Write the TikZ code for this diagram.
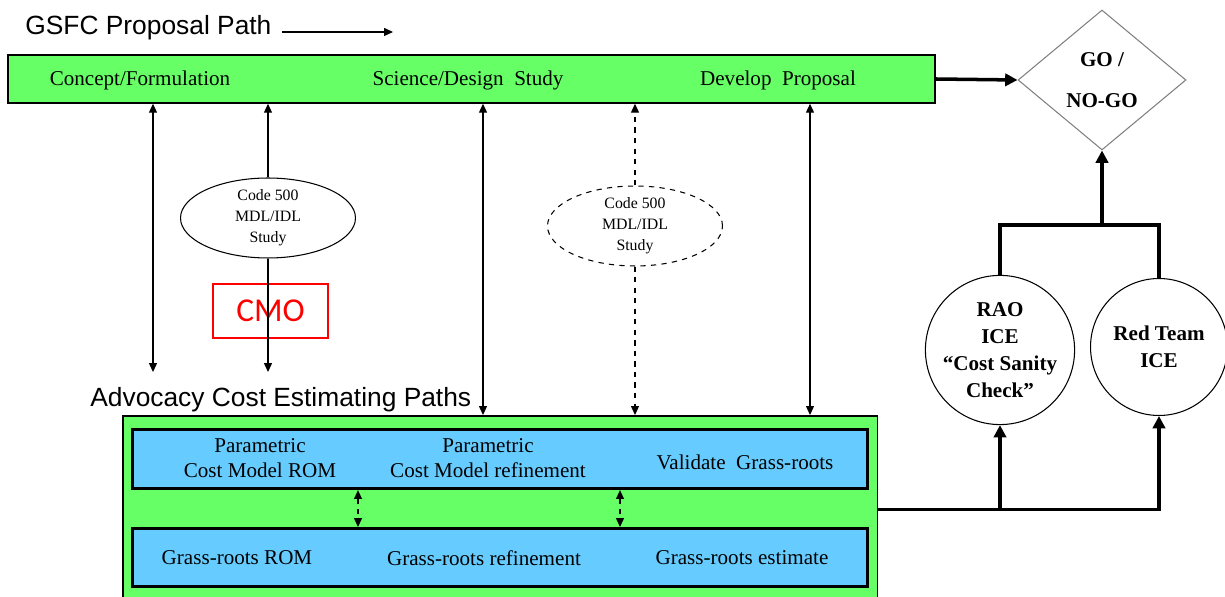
\documentclass[tikz,border=0pt]{standalone}
\usepackage{fontspec}
\setmainfont{Liberation Serif}
\setsansfont{Liberation Sans}
\newfontfamily\cmofont{Carlito}
\usetikzlibrary{arrows.meta,shapes.geometric}
\definecolor{barGreen}{RGB}{102,255,102}
\definecolor{barBlue}{RGB}{102,204,255}

\begin{document}
\begin{tikzpicture}[x=0.02cm, y=-0.02cm,
    tip/.style={line width=0.6pt, -{Triangle[length=5pt,width=4.5pt]}},
    both/.style={line width=0.6pt, {Triangle[length=5pt,width=4.5pt]}-{Triangle[length=5pt,width=4.5pt]}},
    fat/.style={line width=2pt},
    bigtip/.style={-{Triangle[length=7pt,width=7pt]}},
    greenbar/.style={draw, line width=0.9pt, fill=barGreen, inner sep=0},
    bluebar/.style={draw, line width=1.8pt, fill=barBlue, inner sep=0, anchor=north west},
    lbl/.style={font=\fontsize{12}{14}\selectfont, align=center},
    study/.style={ellipse, draw, line width=0.6pt, fill=white, align=center, inner sep=0,
        minimum width=3.5cm, minimum height=1.52cm, font=\fontsize{9}{12}\selectfont},
    ice/.style={circle, draw, line width=0.6pt, align=center, inner sep=0, minimum size=2.74cm,
        font=\bfseries\fontsize{12}{15.5}\selectfont},
    heading/.style={anchor=west, inner sep=0, font=\sffamily\fontsize{15}{18}\selectfont}]
    \useasboundingbox (0,0) rectangle (1225,597);

    % proposal path along the top
    \node[heading] (title) at (25,28) {GSFC Proposal Path};
    \coordinate (pathend) at (393,32);
    \draw[tip] ([xshift=6pt]title.east |- pathend) -- (pathend);

    \node[greenbar, minimum width=18.54cm, minimum height=0.96cm] (prop) at (471.5,79) {};
    \node[lbl] (concept) at (140,80) {Concept/Formulation};
    \node[lbl] (science) at (468,80) {Science/Design\ \ Study};
    \node[lbl] (develop) at (778,80) {Develop\ \ Proposal};

    % decision
    \node[diamond, draw=gray, line width=0.6pt, minimum width=3.36cm, minimum height=2.8cm, inner sep=0,
        align=center, font=\bfseries\fontsize{12}{23}\selectfont] (gonogo) at (1102,80) {GO /\\NO-GO};
    \draw[fat, bigtip] (prop.east) -- (gonogo.west);

    % advocacy estimating paths
    \node[heading] (advlbl) at (90,400) {Advocacy Cost Estimating Paths};
    \node[greenbar, anchor=north west, minimum width=15.1cm, minimum height=3.74cm] (adv) at (122,415) {};

    \node[bluebar, minimum width=14.7cm, minimum height=1.18cm] (param) at (131,428) {};
    \node[lbl] (pRom) at (260,458) {Parametric\\Cost Model ROM};
    \node[lbl] (pRef) at (488,458) {Parametric\\Cost Model refinement};
    \node[lbl] (pVal) at (745,462) {Validate\ \ Grass-roots};

    \node[bluebar, minimum width=14.7cm, minimum height=1.16cm] (grass) at (131,527) {};
    \node[lbl] (gRom) at (237,558) {Grass-roots ROM};
    \node[lbl] (gRef) at (484,558) {Grass-roots refinement};
    \node[lbl] (gEst) at (742,558) {Grass-roots estimate};

    \path (358,0) coordinate (d1) (620,0) coordinate (d2);
    \draw[both, dashed] (param.south -| d1) -- (grass.north -| d1);
    \draw[both, dashed] (param.south -| d2) -- (grass.north -| d2);

    % links between the two paths
    \node[draw=red, line width=0.7pt, minimum width=2.3cm, minimum height=1.08cm, text=red,
        font=\cmofont\fontsize{19}{22}\selectfont] (cmo) at (270.5,311) {CMO};
    \node[study] (study1) at (268,218) {Code 500\\MDL/IDL\\Study};
    \node[study, dashed] (study2) at (635,226) {Code 500\\MDL/IDL\\Study};

    \path (153,372) coordinate (a1) (268,372) coordinate (a2)
        (483,0) coordinate (c3) (810,0) coordinate (c5);
    \draw[both] (a1 |- prop.south) -- (a1);
    \draw[tip] (study1) -- (study1 |- prop.south);
    \draw[tip] (study1) -- (a2);
    \draw[both] (prop.south -| c3) -- (adv.north -| c3);
    \draw[tip, dashed] (study2) -- (study2 |- prop.south);
    \draw[tip, dashed] (study2) -- (study2 |- adv.north);
    \draw[both] (prop.south -| c5) -- (adv.north -| c5);

    % independent estimates
    \node[ice] (rao) at (1000,350) {RAO\\ICE\\``Cost Sanity\\Check''};
    \node[ice] (redteam) at (1159,347) {Red Team\\ICE};
    \draw[fat, bigtip] (adv.east) -| (redteam.south);
    \draw[fat, bigtip] (rao.south |- adv.east) -- (rao.south);
    \coordinate (join) at (1102,225);
    \draw[fat] (rao.north) |- (redteam.north |- join) -- (redteam.north);
    \draw[fat, bigtip] (join) -- (gonogo.south);
\end{tikzpicture}
\end{document}
